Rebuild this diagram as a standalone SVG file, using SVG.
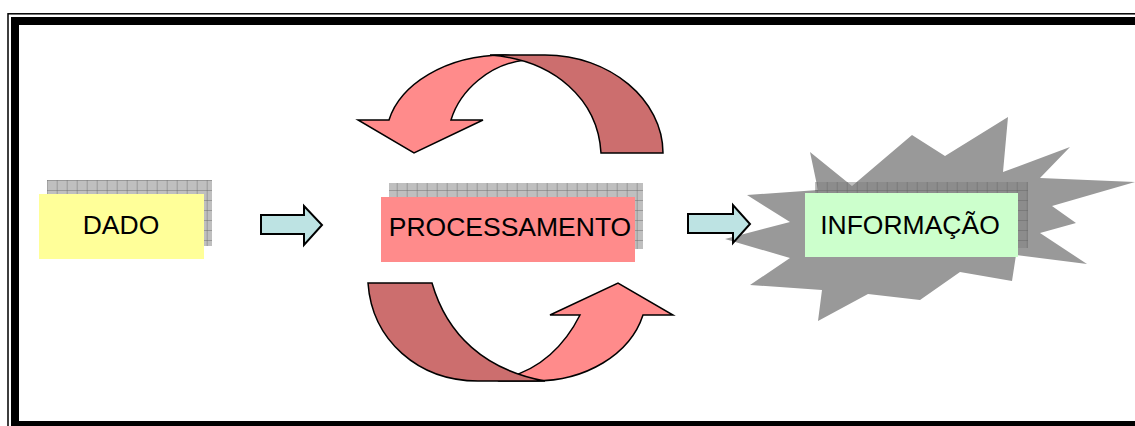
<svg xmlns="http://www.w3.org/2000/svg" width="1135" height="426" viewBox="0 0 1135 426">
<defs>
<style>
.lbl{font-family:"Liberation Sans",Arial,sans-serif;font-size:26.5px;fill:#000;text-anchor:middle}
.blk{fill:#BDE3E3;stroke:#000;stroke-width:2;stroke-linejoin:miter}
.lt{fill:#FF8B8B;stroke:#000;stroke-width:1.5;stroke-linejoin:miter}
.dk{fill:#CC6E6E;stroke:#000;stroke-width:1.5;stroke-linejoin:miter}
.shadow{fill:url(#grid)}
</style>
<pattern id="grid" patternUnits="userSpaceOnUse" x="6.7" y="0" width="10" height="10">
<rect width="10" height="10" fill="#808080" fill-opacity="0.5"/>
<path d="M0,0.5H10M0.5,0V10" stroke="#606060" stroke-opacity="0.4" stroke-width="1"/>
</pattern>
</defs>
<rect width="1135" height="426" fill="#fff"/>
<g id="frame">
<rect x="8" y="13.8" width="1160" height="430" fill="none" stroke="#000" stroke-width="1.5"/>
<rect x="15" y="21" width="1150" height="404" fill="none" stroke="#000" stroke-width="8"/>
</g>
<g id="burst">
<polygon points="810,152 852,186 912,135 945,156 1008,117 1003,172 1070,147 1040,178 1135,182 1052,206 1076,223 1040,233 1087,264 1016,255 1012,281 960,272 920,300 868,294 818,321 822,290 750,285 790,258 725,239 790,222 747,195 818,190" fill="#999999"/>
</g>
<g id="node-dado">
<rect class="shadow" x="47" y="180" width="165" height="66"/>
<rect x="39" y="194" width="165" height="65" fill="#FFFF99"/>
<text class="lbl" x="121" y="234">DADO</text>
</g>
<g id="node-processamento">
<rect class="shadow" x="389" y="183" width="254" height="66"/>
<rect x="381" y="197" width="254" height="65" fill="#FF8B8B"/>
<text class="lbl" x="510" y="235.5">PROCESSAMENTO</text>
</g>
<g id="node-informacao">
<rect class="shadow" x="815" y="182" width="213" height="66"/>
<rect x="805" y="193" width="213" height="64" fill="#CCFFCC"/>
<text class="lbl" x="910" y="233.5">INFORMAÇÃO</text>
</g>
<g id="cycle-top">
<path class="lt" d="M389,120 C400,85 445,55 505,55 C515,56 522,58 525,60 C490,64 460,90 451,120 L483,120 L414,153 L358,120 Z"/>
<path class="dk" d="M490,55 L545,55 C610,55 663,100 663,153 L601,153 C598,100 555,60 490,55 Z"/>
</g>
<g id="cycle-bottom">
<path class="lt" d="M500,381 L535,381 C585,381 630,355 643,315 L673,315 L618,283 L550,315 L580,315 C565,345 540,370 505,378 Z"/>
<path class="dk" d="M368,283 L432,283 C447,335 485,370 545,381 L478,381 C418,381 372,340 368,283 Z"/>
</g>
<g id="connectors">
<path class="blk" d="M261,215 L304,215 L304,206 L322,225 L304,245 L304,234 L261,234 Z"/>
<path class="blk" d="M688,214 L733,214 L733,205 L750,224 L733,243 L733,233 L688,233 Z"/>
</g>
</svg>
